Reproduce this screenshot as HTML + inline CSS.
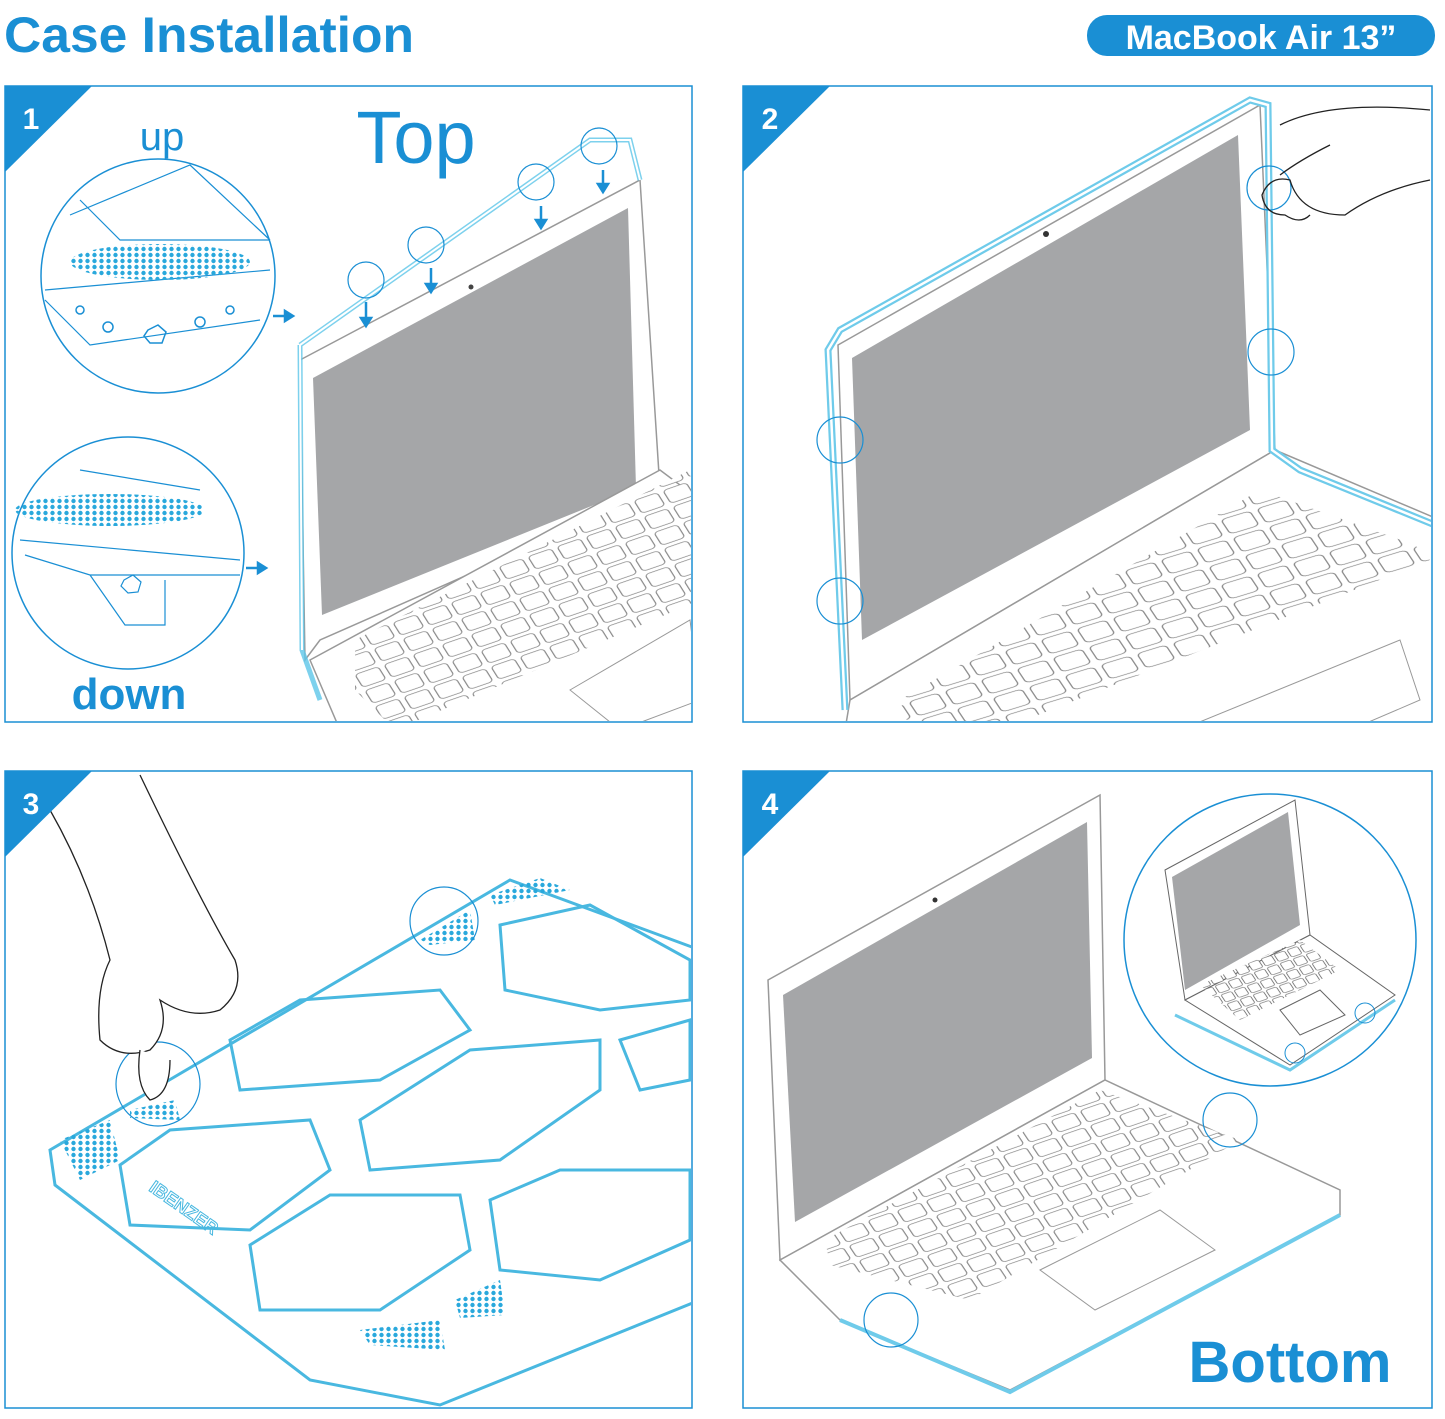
<!DOCTYPE html>
<html><head><meta charset="utf-8"><style>
html,body{margin:0;padding:0;background:#fff;width:1445px;height:1419px;overflow:hidden}
svg{display:block}
</style></head><body>
<svg width="1445" height="1419" viewBox="0 0 1445 1419" xmlns="http://www.w3.org/2000/svg" font-family="Liberation Sans, sans-serif">
<defs>
<pattern id="k2" width="10" height="10" patternUnits="userSpaceOnUse" patternTransform="matrix(3.6 -1.1 1.2 1.8 880 600)"><rect x="1" y="1" width="8" height="8" rx="1.5" fill="#fff" stroke="#888" stroke-width="0.35"/></pattern>
<pattern id="k1" width="10" height="10" patternUnits="userSpaceOnUse" patternTransform="matrix(2.9 -1.0 1.0 1.6 340 600)"><rect x="1" y="1" width="8" height="8" rx="1.5" fill="#fff" stroke="#888" stroke-width="0.4"/></pattern>
<pattern id="k4" width="10" height="10" patternUnits="userSpaceOnUse" patternTransform="matrix(2.9 -1.0 1.0 1.5 815 1200)"><rect x="1" y="1" width="8" height="8" rx="1.5" fill="#fff" stroke="#888" stroke-width="0.4"/></pattern>
<pattern id="k5" width="10" height="10" patternUnits="userSpaceOnUse" patternTransform="matrix(1.3 -0.45 0.6 0.9 1200 990)"><rect x="1" y="1" width="8" height="8" rx="1.5" fill="#fff" stroke="#666" stroke-width="0.6"/></pattern>
<pattern id="dots" width="7" height="6" patternUnits="userSpaceOnUse"><circle cx="3.5" cy="3" r="2.2" fill="#29a8dc"/></pattern>
<clipPath id="c1"><rect x="6" y="87" width="685" height="634"/></clipPath>
<clipPath id="c2"><rect x="744" y="87" width="687" height="634"/></clipPath>
<clipPath id="c3"><rect x="6" y="772" width="685" height="635"/></clipPath>
<clipPath id="c4"><rect x="744" y="772" width="687" height="635"/></clipPath>
</defs>

<text x="4" y="52" font-size="50" font-weight="bold" fill="#1a8fd4" textLength="410" lengthAdjust="spacingAndGlyphs">Case Installation</text>
<rect x="1087" y="15" width="348" height="41" rx="20" fill="#1a8fd4"/>
<text x="1261" y="49" font-size="34" font-weight="bold" fill="#fff" text-anchor="middle">MacBook Air 13”</text>

<g fill="none" stroke="#1a8fd4" stroke-width="1.5">
<rect x="5" y="86" width="687" height="636"/>
<rect x="743" y="86" width="689" height="636"/>
<rect x="5" y="771" width="687" height="637"/>
<rect x="743" y="771" width="689" height="637"/>
</g>

<!-- PANEL 1 -->
<g clip-path="url(#c1)">
<polygon points="300,360 640,180 660,490 320,640 305,660" fill="#fff" stroke="#999" stroke-width="1.5"/>
<polygon points="313,378 628,208 636,488 322,615" fill="#a5a6a8"/>
<circle cx="471" cy="287" r="2.5" fill="#444"/>
<polygon points="310,660 660,470 700,500 700,730 340,730" fill="#fff" stroke="#999" stroke-width="1.5"/>
<polygon points="355,640 690,470 700,600 395,730 355,690" fill="url(#k1)"/>
<polygon points="570,690 690,620 700,700 620,730" fill="#fff" stroke="#999"/>
<path d="M300,345 L590,140 L630,140 L640,180 M300,345 L302,650 L320,700" fill="none" stroke="#5cc6e8" stroke-width="5" opacity="0.8"/>
<path d="M300,345 L590,140 L630,140 L640,180 M300,345 L302,650" fill="none" stroke="#fff" stroke-width="2"/>
<g fill="none" stroke="#1a8fd4" stroke-width="1.2">
<circle cx="366" cy="280" r="18"/><circle cx="426" cy="245" r="18"/><circle cx="536" cy="182" r="18"/><circle cx="599" cy="146" r="18"/>
</g>
<g stroke="#1a8fd4" stroke-width="2.5" fill="#1a8fd4">
<line x1="366" y1="302" x2="366" y2="320"/><polygon points="361,318 371,318 366,326"/>
<line x1="431" y1="268" x2="431" y2="286"/><polygon points="426,284 436,284 431,292"/>
<line x1="541" y1="206" x2="541" y2="222"/><polygon points="536,220 546,220 541,228"/>
<line x1="603" y1="170" x2="603" y2="186"/><polygon points="598,184 608,184 603,192"/>
<line x1="273" y1="316" x2="287" y2="316"/><polygon points="285,311 285,321 293,316"/>
<line x1="246" y1="568" x2="260" y2="568"/><polygon points="258,563 258,573 266,568"/>
</g>
<circle cx="158" cy="276" r="117" fill="#fff" stroke="#1a8fd4" stroke-width="1.5"/>
<g fill="none" stroke="#1a8fd4" stroke-width="1.2">
<path d="M70,215 L190,165 L270,240 M80,200 L120,240 L270,240 M45,290 L270,270 M45,300 L90,345 L260,320"/>
</g>
<ellipse cx="160" cy="262" rx="90" ry="18" fill="url(#dots)"/>
<g fill="none" stroke="#1a8fd4" stroke-width="1.5"><polygon points="148,330 158,325 166,332 162,343 150,343 144,336"/><circle cx="108" cy="327" r="5"/><circle cx="80" cy="310" r="4"/><circle cx="200" cy="322" r="5"/><circle cx="230" cy="310" r="4"/></g>
<text x="162" y="150" font-size="40" fill="#1a8fd4" text-anchor="middle">up</text>
<text x="416" y="163" font-size="74" fill="#1a8fd4" text-anchor="middle">Top</text>
<circle cx="128" cy="553" r="116" fill="#fff" stroke="#1a8fd4" stroke-width="1.5"/>
<ellipse cx="110" cy="510" rx="95" ry="16" fill="url(#dots)"/>
<g fill="none" stroke="#1a8fd4" stroke-width="1.2">
<path d="M20,540 L240,560 M25,555 L90,575 L240,575 M80,470 L200,490 M90,575 L125,625 L165,625 L165,580"/>
<polygon points="124,580 133,575 141,582 138,592 128,593 121,586"/>
</g>
<text x="129" y="709" font-size="44" font-weight="bold" fill="#1a8fd4" text-anchor="middle">down</text>
</g>
<polygon points="5,86 92,86 5,172" fill="#1a8fd4"/>
<text x="31" y="129" font-size="30" font-weight="bold" fill="#fff" text-anchor="middle">1</text>

<!-- PANEL 2 -->
<g clip-path="url(#c2)">
<polygon points="838,345 1260,105 1275,450 850,700" fill="#fff" stroke="#999" stroke-width="1.5"/>
<polygon points="852,358 1238,135 1250,430 862,640" fill="#a5a6a8"/>
<circle cx="1046" cy="234" r="3" fill="#333"/>
<polygon points="850,700 1275,450 1440,520 1440,730 845,730" fill="#fff" stroke="#999" stroke-width="1.5"/>
<polygon points="900,700 1260,490 1415,545 1430,560 1000,730 910,730" fill="url(#k2)"/>
<polygon points="1180,730 1400,640 1420,700 1350,730" fill="#fff" stroke="#999"/>
<path d="M845,710 L828,350 L840,330 L1250,100 L1268,105 L1272,450 L1300,470 L1435,525" fill="none" stroke="#6fcbea" stroke-width="7"/>
<path d="M845,710 L828,350 L840,330 L1250,100 L1268,105 L1272,450 L1300,470 L1435,525" fill="none" stroke="#fff" stroke-width="2.5"/>
<g fill="none" stroke="#1a8fd4" stroke-width="1.2">
<circle cx="1269" cy="188" r="22"/><circle cx="1271" cy="352" r="23"/><circle cx="840" cy="440" r="23"/><circle cx="840" cy="601" r="23"/>
</g>
<path d="M1280,125 Q1330,100 1430,110 M1330,145 Q1300,160 1280,175 M1430,180 Q1380,190 1345,215 Q1300,215 1290,180 Q1270,175 1262,195 Q1265,215 1285,215 Q1300,225 1310,215" fill="none" stroke="#222" stroke-width="1.3"/>
</g>
<polygon points="743,86 830,86 743,172" fill="#1a8fd4"/>
<text x="770" y="129" font-size="30" font-weight="bold" fill="#fff" text-anchor="middle">2</text>

<!-- PANEL 3 -->
<g clip-path="url(#c3)">
<g fill="none" stroke="#49b8e0" stroke-width="3">
<polygon points="50,1150 510,880 700,950 700,1300 440,1405 310,1380 55,1185"/>
<polygon points="230,1040 300,1000 440,990 470,1030 380,1080 240,1090"/>
<polygon points="500,925 590,905 690,960 690,1000 600,1010 505,990"/>
<polygon points="360,1120 470,1050 600,1040 600,1090 500,1160 370,1170"/>
<polygon points="620,1040 690,1020 690,1080 640,1090"/>
<polygon points="120,1165 170,1130 310,1120 330,1170 250,1230 130,1225"/>
<polygon points="250,1245 330,1195 460,1195 470,1250 380,1310 260,1310"/>
<polygon points="490,1200 560,1170 690,1170 690,1240 600,1280 500,1270"/>
</g>
<polygon points="60,1140 110,1120 120,1160 80,1180" fill="url(#dots)"/>
<polygon points="420,940 470,910 475,940 430,945" fill="url(#dots)"/>
<polygon points="490,895 540,878 570,890 495,905" fill="url(#dots)"/>
<polygon points="455,1300 500,1280 505,1315 460,1318" fill="url(#dots)"/>
<polygon points="360,1330 440,1320 445,1350 370,1345" fill="url(#dots)"/>
<polygon points="130,1110 175,1100 180,1120 130,1118" fill="url(#dots)"/>
<text x="148" y="1190" font-size="18" font-weight="bold" fill="none" stroke="#49b8e0" transform="rotate(35 148 1190)">IBENZER</text>
<circle cx="444" cy="921" r="34" fill="none" stroke="#1a8fd4" stroke-width="1.2"/>
<circle cx="158" cy="1084" r="42" fill="none" stroke="#1a8fd4" stroke-width="1.2"/>
<path d="M50,810 Q90,880 110,960 Q95,990 100,1040 Q120,1060 150,1050 Q170,1030 160,1000 Q190,1020 220,1010 Q245,990 235,960 Q200,900 140,775" fill="#fff" stroke="#222" stroke-width="1.3"/>
<path d="M140,1050 Q135,1085 150,1100 Q170,1095 170,1060" fill="#fff" stroke="#222" stroke-width="1.3"/>
</g>
<polygon points="5,771 92,771 5,857" fill="#1a8fd4"/>
<text x="31" y="814" font-size="30" font-weight="bold" fill="#fff" text-anchor="middle">3</text>

<!-- PANEL 4 -->
<g clip-path="url(#c4)">
<polygon points="768,980 1100,795 1105,1080 780,1260" fill="#fff" stroke="#999" stroke-width="1.5"/>
<polygon points="783,995 1087,822 1092,1058 795,1222" fill="#a5a6a8"/>
<circle cx="935" cy="900" r="2.5" fill="#333"/>
<polygon points="780,1260 1105,1080 1340,1190 1340,1215 1010,1390 840,1320" fill="#fff" stroke="#999" stroke-width="1.5"/>
<path d="M840,1320 L1010,1392 L1340,1215" fill="none" stroke="#6fcbea" stroke-width="4"/>
<polygon points="825,1240 1100,1090 1240,1140 970,1300 830,1265" fill="url(#k4)"/>
<polygon points="1040,1270 1160,1210 1215,1250 1095,1310" fill="#fff" stroke="#999"/>
<g fill="none" stroke="#1a8fd4" stroke-width="1.2"><circle cx="1230" cy="1120" r="27"/><circle cx="891" cy="1320" r="27"/></g>
<circle cx="1270" cy="940" r="146" fill="#fff" stroke="#1a8fd4" stroke-width="1.5"/>
<polygon points="1165,870 1295,800 1310,935 1185,1000" fill="#fff" stroke="#666"/>
<polygon points="1172,877 1288,812 1300,925 1185,990" fill="#a5a6a8"/>
<polygon points="1185,1000 1310,935 1395,995 1290,1065" fill="#fff" stroke="#666"/>
<polygon points="1200,985 1300,940 1340,970 1240,1020" fill="url(#k5)"/>
<polygon points="1280,1010 1320,990 1345,1015 1300,1035" fill="#fff" stroke="#666"/>
<path d="M1175,1015 L1290,1070 L1395,1000" fill="none" stroke="#6fcbea" stroke-width="3"/>
<g fill="none" stroke="#1a8fd4"><circle cx="1295" cy="1053" r="10"/><circle cx="1365" cy="1013" r="10"/></g>
<text x="1290" y="1382" font-size="58" font-weight="bold" fill="#1a8fd4" text-anchor="middle">Bottom</text>
</g>
<polygon points="743,771 830,771 743,857" fill="#1a8fd4"/>
<text x="770" y="814" font-size="30" font-weight="bold" fill="#fff" text-anchor="middle">4</text>
</svg>
</body></html>
